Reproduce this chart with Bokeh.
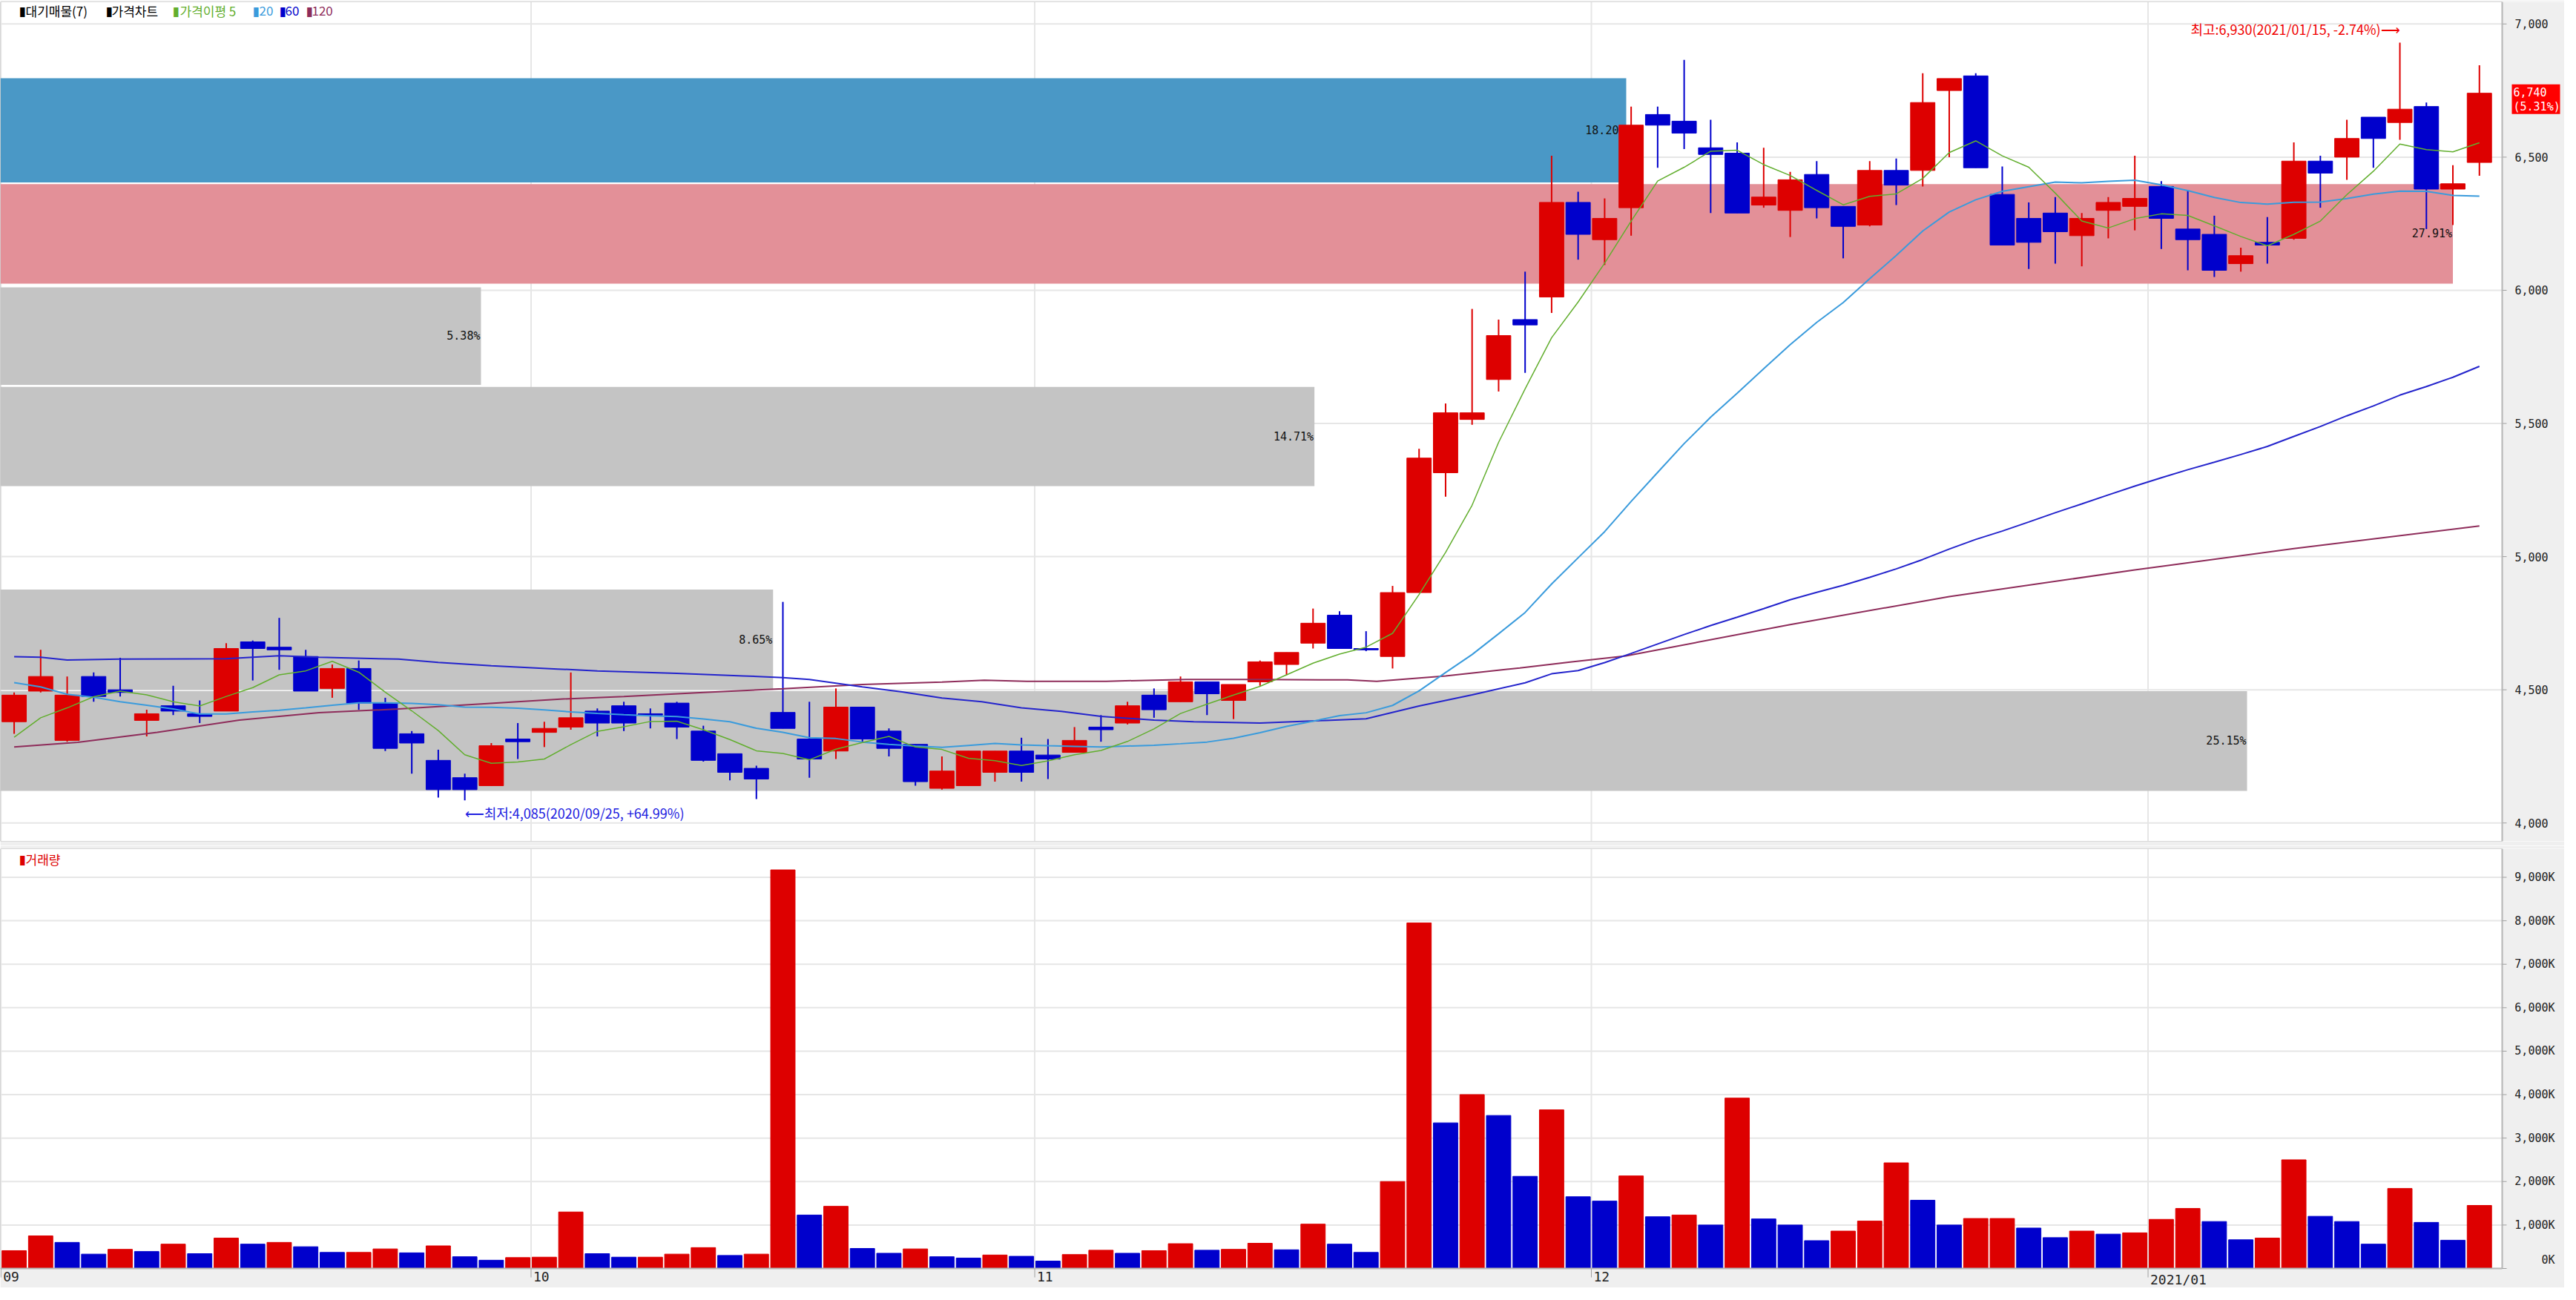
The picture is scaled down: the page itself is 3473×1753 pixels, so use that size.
import numpy as np
import pandas as pd
from bokeh.plotting import figure
from bokeh.layouts import column
from bokeh.models import Range1d, Label, ColumnDataSource
from bokeh.core.properties import value
from bokeh.embed import file_html
from bokeh.resources import INLINE

# ---------------- data ----------------
opens = [4380, 4495, 4310, 4550, 4500, 4385, 4440, 4410, 4420, 4680,
         4660, 4625, 4505, 4580, 4450, 4335, 4235, 4170, 4140, 4315,
         4340, 4360, 4420, 4440, 4410, 4450, 4345, 4260, 4205, 4415,
         4315, 4270, 4435, 4345, 4295, 4130, 4140, 4190, 4270, 4255,
         4265, 4360, 4375, 4480, 4455, 4530, 4460, 4530, 4595, 4675,
         4780, 4655, 4625, 4865, 5315, 5515, 5665, 5890, 5975, 6330,
         6190, 6310, 6660, 6635, 6535, 6515, 6320, 6300, 6435, 6315,
         6245, 6450, 6450, 6750, 6805, 6360, 6270, 6290, 6205, 6300,
         6315, 6390, 6230, 6210, 6100, 6180, 6195, 6485, 6500, 6650,
         6630, 6690, 6380, 6480]
highs = [4490, 4650, 4550, 4565, 4620, 4425, 4515, 4460, 4675, 4685,
         4770, 4650, 4595, 4610, 4470, 4345, 4275, 4185, 4300, 4375,
         4380, 4565, 4430, 4455, 4430, 4455, 4365, 4260, 4215, 4830,
         4455, 4505, 4435, 4355, 4295, 4250, 4270, 4270, 4320, 4315,
         4360, 4405, 4455, 4505, 4550, 4530, 4520, 4610, 4640, 4805,
         4795, 4720, 4890, 5405, 5575, 5930, 5890, 6070, 6505, 6370,
         6345, 6690, 6690, 6865, 6640, 6555, 6535, 6445, 6485, 6315,
         6485, 6495, 6815, 6795, 6815, 6465, 6330, 6350, 6290, 6350,
         6505, 6410, 6375, 6280, 6160, 6275, 6555, 6505, 6640, 6650,
         6930, 6705, 6470, 6845]
lows = [4335, 4490, 4305, 4455, 4475, 4325, 4405, 4375, 4420, 4535,
        4575, 4495, 4470, 4425, 4270, 4185, 4095, 4085, 4140, 4240,
        4285, 4350, 4325, 4345, 4355, 4315, 4230, 4160, 4090, 4355,
        4170, 4240, 4305, 4250, 4140, 4125, 4140, 4155, 4155, 4165,
        4265, 4305, 4370, 4395, 4455, 4405, 4390, 4515, 4555, 4655,
        4655, 4645, 4580, 4865, 5225, 5495, 5620, 5690, 5915, 6115,
        6095, 6205, 6460, 6530, 6290, 6290, 6310, 6200, 6270, 6120,
        6240, 6320, 6390, 6500, 6460, 6170, 6080, 6100, 6090, 6195,
        6225, 6155, 6075, 6050, 6070, 6100, 6190, 6310, 6415, 6460,
        6565, 6230, 6245, 6430]
closes = [4480, 4550, 4480, 4475, 4490, 4410, 4420, 4400, 4655, 4655,
          4650, 4495, 4580, 4450, 4280, 4300, 4125, 4125, 4290, 4305,
          4355, 4395, 4375, 4375, 4405, 4360, 4235, 4190, 4165, 4355,
          4240, 4435, 4315, 4280, 4155, 4195, 4270, 4270, 4190, 4240,
          4310, 4350, 4440, 4425, 4530, 4485, 4520, 4605, 4640, 4750,
          4655, 4650, 4865, 5370, 5540, 5540, 5830, 5870, 6330, 6210,
          6270, 6620, 6620, 6590, 6510, 6290, 6350, 6415, 6310, 6240,
          6450, 6395, 6705, 6795, 6460, 6170, 6180, 6220, 6270, 6330,
          6345, 6270, 6190, 6075, 6130, 6170, 6485, 6440, 6570, 6570,
          6680, 6380, 6400, 6740]
volumes_k = [410, 750, 600, 330, 440, 390, 560, 340, 700, 560,
             600, 500, 370, 370, 450, 360, 520, 270, 190, 250,
             260, 1300, 340, 260, 260, 330, 480, 300, 330, 9170,
             1230, 1430, 460, 350, 450, 270, 240, 310, 280, 170,
             320, 420, 350, 410, 570, 420, 440, 580, 430, 1020,
             560, 370, 2000, 7950, 3350, 4000, 3520, 2120, 3650, 1650,
             1550, 2130, 1190, 1230, 1000, 3920, 1140, 1000, 640, 860,
             1090, 2430, 1570, 1000, 1150, 1150, 930, 710, 860, 790,
             820, 1130, 1380, 1080, 660, 700, 2500, 1200, 1080, 560,
             1840, 1060, 650, 1450]

month_start_idx = [0, 20, 39, 60, 81]
month_labels = ["09", "10", "11", "12", "2021/01"]

price_ticks = [4000, 4500, 5000, 5500, 6000, 6500, 7000]
volume_ticks = [0, 1000, 2000, 3000, 4000, 5000, 6000, 7000, 8000, 9000]

# moving-average values before enough history is on screen
ma5_head = [4322, 4395, 4432, 4474]
ma20_head = [4527, 4511, 4483, 4472, 4455, 4442, 4428, 4409, 4409, 4417,
             4423, 4432, 4442, 4451, 4451, 4449, 4444, 4435, 4434]
ma60_head_idx = [0, 1, 2, 4, 8, 10, 11.5, 14.5, 16, 18, 20.5, 22, 25, 27.5, 29, 30, 31, 32,
                 33.5, 35, 36.5, 38, 39.5, 41, 43, 44.5, 47, 49.5, 51, 53, 55, 57, 58]
ma60_head_val = [4624, 4622, 4612, 4615, 4617, 4628, 4622, 4615, 4603, 4590, 4578, 4571, 4562,
                 4552, 4546, 4539, 4525, 4511, 4492, 4469, 4455, 4432, 4419, 4400, 4386, 4380,
                 4375, 4385, 4391, 4439, 4481, 4526, 4560]
ma120_idx = [0, 2.4, 5.4, 8.5, 11.5, 14.5, 17.5, 20.6, 23, 26, 29, 32, 35, 36.6, 38.2, 41.2,
             44.2, 47, 50.3, 51.4, 54, 56.8, 58.7, 60.8, 67, 73, 80, 86, 93]
ma120_val = [4285, 4303, 4340, 4386, 4414, 4428, 4446, 4465, 4475, 4490, 4504, 4520, 4529,
             4536, 4532, 4532, 4539, 4539, 4537, 4532, 4552, 4582, 4604, 4627, 4745, 4850,
             4950, 5030, 5115]

# supply zones (대기매물)
zone_lo = [4120, 4500, 4880, 5265, 5645, 6025, 6405]
zone_hi = [4495, 4876, 5260, 5637, 6011, 6399, 6796]
zone_pct = [25.15, 8.65, 0.00, 14.71, 5.38, 27.91, 18.20]

high_idx, high_val, high_date = 90, 6930, "2021/01/15"
low_idx, low_val, low_date = 17, 4085, "2020/09/25"

# ---------------- layout constants ----------------
N = len(closes)
idx = np.arange(N)
W = 3457
FW = 3373                     # width of the plotting area (left of the price axis)
PH, PFH = 1140, 1132
VH, VPA, VDATE = 596, 566, 26
X0, X1 = -0.52, N - 1 + 0.86
PXU = FW / (X1 - X0)          # px per candle
XR = X0 + W / PXU             # right end incl. axis strip
PY0, PY1 = 3931, 7083
P_PPX = (PY1 - PY0) / PFH
VY1 = 9657
V_PPX = VY1 / VPA
VY0 = -VDATE * V_PPX

def px_x(px):
    return X0 + px / PXU

def py_p(py):
    return PY1 - py * P_PPX

def py_v(py):
    return VY1 - py * V_PPX

RED = "#DD0000"
BLUE = "#0000CC"
BORDER = "#EFEFEF"
GRID = "#E6E6E6"
AXL = "#B0B0B0"
MONO = value("DejaVu Sans Mono")
KR = value("Noto Sans CJK KR")
month_grid = [m - 0.5 for m in month_start_idx]

# ---------------- price figure ----------------
p = figure(width=W, height=PH, x_range=Range1d(X0, XR), y_range=Range1d(PY0, PY1),
           output_backend="svg", toolbar_location=None, x_axis_location=None,
           y_axis_location=None, min_border_left=0, min_border_right=0,
           min_border_top=2, min_border_bottom=PH - PFH - 2)
p.border_fill_color = BORDER
p.background_fill_color = "white"
p.outline_line_color = None
p.grid.visible = False

# grid lines
p.segment(x0=X0, x1=X1, y0=price_ticks, y1=price_ticks, line_color=GRID, line_width=2)
p.segment(x0=month_grid, x1=month_grid, y0=PY0, y1=PY1, line_color=GRID, line_width=2)

# zones
last_close = closes[-1]
zmax = max(zone_pct)
zl, zh, zr, zc, zt, zm = [], [], [], [], [], []
for lo, hi, pct in zip(zone_lo, zone_hi, zone_pct):
    if pct <= 0:
        continue
    if lo <= last_close <= hi:
        col = "#4A98C6"
    elif pct == zmax:
        col = "#E39098"
    else:
        col = "#C4C4C4"
    zl.append(lo); zh.append(hi); zc.append(col)
    zr.append(min(X0 + pct * 3.37, N - 2))
    zt.append(f"{pct:.2f}%")
    zm.append((lo + hi) / 2)
zsrc = ColumnDataSource(dict(left=[X0] * len(zl), right=zr, bottom=zl, top=zh, color=zc, text=zt, mid=zm))
p.quad(left="left", right="right", bottom="bottom", top="top", fill_color="color",
       line_color=None, source=zsrc)
p.text(x="right", y="mid", text="text", source=zsrc, text_align="right", text_baseline="middle",
       text_font=MONO, text_font_size="15px", text_color="#111111", x_offset=-1)

# candles
top = np.maximum(opens, closes)
bot = np.minimum(opens, closes)
ccol = [RED if c >= o else BLUE for o, c in zip(opens, closes)]
csrc = ColumnDataSource(dict(x=idx, h=highs, l=lows, top=top, bot=bot, col=ccol))
p.segment(x0="x", y0="l", x1="x", y1="h", line_color="col", line_width=2, source=csrc)
p.vbar(x="x", width=0.92, top="top", bottom="bot", fill_color="col", line_color="col",
       line_width=1, source=csrc)

# moving averages
cl = pd.Series(closes, dtype=float)
ma5 = cl.rolling(5).mean().to_numpy()
ma5[:len(ma5_head)] = ma5_head
ma20 = cl.rolling(20).mean().to_numpy()
ma20[:len(ma20_head)] = ma20_head
ma60_tail = cl.rolling(60).mean().to_numpy()[59:]
ma60_x = list(ma60_head_idx) + list(range(59, N))
ma60_y = list(ma60_head_val) + list(ma60_tail)

p.line(ma120_idx, ma120_val, line_color="#8E2C5A", line_width=2)
p.line(ma60_x, ma60_y, line_color="#2424CC", line_width=2)
p.line(idx, ma20, line_color="#3A9BDC", line_width=2)
p.line(idx, ma5, line_color="#62AE2E", line_width=1.5)

# price axis strip (drawn inside the frame)
p.quad(left=X1, right=XR, bottom=PY0, top=PY1, fill_color=BORDER, line_color=None)
p.segment(x0=X1, x1=X1, y0=PY0, y1=PY1, line_color=AXL, line_width=2)
p.segment(x0=X1, x1=X1 + 6 / PXU, y0=price_ticks, y1=price_ticks, line_color="#A0A0A0", line_width=1)
p.text(x=X1 + 17 / PXU, y=price_ticks, text=[f"{t:,}" for t in price_ticks],
       text_align="left", text_baseline="middle", text_font=MONO, text_font_size="15px",
       text_color="#222222")

# current price box on the axis
chg = (closes[-1] / closes[-2] - 1) * 100
p.quad(left=X1 + 13 / PXU, right=X1 + 78 / PXU, bottom=last_close - 28 * P_PPX,
       top=last_close + 12 * P_PPX, fill_color="#FF0000", line_color=None)
p.text(x=X1 + 15 / PXU, y=[last_close + 2 * P_PPX, last_close - 18 * P_PPX],
       text=[f"{last_close:,}", f"({chg:.2f}%)"], text_align="left", text_baseline="middle",
       text_font=MONO, text_font_size="15px", text_color="white")

# plot border
p.quad(left=X0, right=X1, bottom=PY0, top=PY1, fill_color=None, line_color="#B8B8B8", line_width=1)

# high / low annotations
hi_pct = (last_close / high_val - 1) * 100
lo_pct = (last_close / low_val - 1) * 100
p.text(x=[high_idx], y=[high_val + 5 * P_PPX],
       text=[f"최고:{high_val:,}({high_date}, {hi_pct:.2f}%)⟶"],
       text_align="right", text_baseline="bottom", text_font=KR,
       text_font_size="18px", text_color="#F00000")
p.text(x=[low_idx], y=[low_val - 4 * P_PPX],
       text=[f"⟵최저:{low_val:,}({low_date}, +{lo_pct:.2f}%)"],
       text_align="left", text_baseline="top", text_font=KR,
       text_font_size="18px", text_color="#2020E0")

# legend row
legend_items = [("▮", "#000000", 25), ("대기매물(7)", "#000000", 34),
                ("▮", "#000000", 142), ("가격차트", "#000000", 150),
                ("▮", "#62AE2E", 232), ("가격이평 5", "#62AE2E", 242),
                ("▮", "#3A9BDC", 340), ("20", "#3A9BDC", 349),
                ("▮", "#0000CC", 376), ("60", "#0000CC", 384),
                ("▮", "#8E2C5A", 412), ("120", "#8E2C5A", 420)]
for t, c, xpx in legend_items:
    p.add_layout(Label(x=px_x(xpx), y=py_p(12), text=t, text_align="left",
                       text_baseline="middle", text_font="Noto Sans CJK KR" if t != "▮" else "DejaVu Sans",
                       text_font_size="17px", text_color=c))

# ---------------- volume figure ----------------
q = figure(width=W, height=VH, x_range=p.x_range, y_range=Range1d(VY0, VY1),
           output_backend="svg", toolbar_location=None, x_axis_location=None,
           y_axis_location=None, min_border_left=0, min_border_right=0,
           min_border_top=VH - VPA - VDATE, min_border_bottom=0)
q.border_fill_color = BORDER
q.background_fill_color = "white"
q.outline_line_color = None
q.grid.visible = False

q.segment(x0=X0, x1=X1, y0=volume_ticks, y1=volume_ticks, line_color=GRID, line_width=2)
q.segment(x0=month_grid, x1=month_grid, y0=0, y1=VY1, line_color=GRID, line_width=2)

vcol = [RED] + [RED if volumes_k[i] >= volumes_k[i - 1] else BLUE for i in range(1, N)]
vsrc = ColumnDataSource(dict(x=idx, v=volumes_k, col=vcol))
q.vbar(x="x", width=0.92, top="v", bottom=0, fill_color="col", line_color="col",
       line_width=1, source=vsrc)

# axis strips
q.quad(left=X1, right=XR, bottom=VY0, top=VY1, fill_color=BORDER, line_color=None)
q.quad(left=X0, right=XR, bottom=VY0, top=0, fill_color=BORDER, line_color=None)
q.segment(x0=X1, x1=X1, y0=0, y1=VY1, line_color=AXL, line_width=2)
q.segment(x0=X0, x1=X1, y0=0, y1=0, line_color=AXL, line_width=2)
q.quad(left=X0, right=X1, bottom=0, top=VY1, fill_color=None, line_color="#B8B8B8", line_width=1)
q.segment(x0=X1, x1=X1 + 6 / PXU, y0=volume_ticks, y1=volume_ticks, line_color="#A0A0A0", line_width=1)
vlab_y = [max(t, 12 * V_PPX) for t in volume_ticks]
q.text(x=X1 + 71 / PXU, y=vlab_y, text=[f"{t:,}K" for t in volume_ticks],
       text_align="right", text_baseline="middle", text_font=MONO, text_font_size="15px",
       text_color="#222222")
q.segment(x0=month_grid, x1=month_grid, y0=0, y1=-12 * V_PPX, line_color="#A0A0A0", line_width=1)
q.text(x=[g + 3 / PXU for g in month_grid], y=-4 * V_PPX, text=month_labels,
       text_align="left", text_baseline="top", text_font=MONO, text_font_size="18px",
       text_color="#222222")

for t, c, xpx in [("▮", RED, 25), ("거래량", RED, 34)]:
    q.add_layout(Label(x=px_x(xpx), y=py_v(14), text=t, text_align="left",
                       text_baseline="middle", text_font="Noto Sans CJK KR" if t != "▮" else "DejaVu Sans",
                       text_font_size="17px", text_color=c))

layout = column(p, q, spacing=0)
open("out.html", "w").write(file_html(layout, INLINE))
